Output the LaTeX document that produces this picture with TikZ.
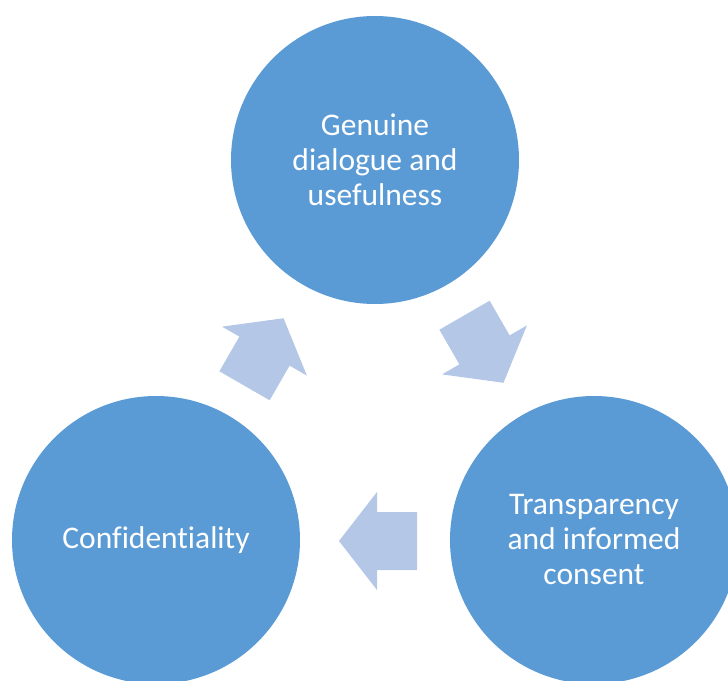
\documentclass[tikz,border=0pt]{standalone}
\usepackage{fontspec}
\setmainfont{Carlito}[Ligatures=NoCommon]
\definecolor{circblue}{HTML}{5B9BD5}
\definecolor{arrblue}{HTML}{B4C7E7}
\tikzset{
  bubble/.style={circle, fill=circblue, draw=none, minimum size=288pt, inner sep=0pt,
    text=white, align=center, font=\fontsize{31.5}{35}\selectfont},
  blockarrow/.pic={
    \fill[arrblue] (39,0) -- (1,49) -- (1,29) -- (-39,29) -- (-39,-29) -- (1,-29) -- (1,-49) -- cycle;
  }
}
\begin{document}
\begin{tikzpicture}[x=1pt,y=-1pt]
\useasboundingbox (0,0) rectangle (728,680);
\clip (0,0) rectangle (728,680);
\node[bubble] (top) at (375,160) {Genuine\\dialogue and\\usefulness};
\node[bubble] (left) at (156,540) {Confidentiality};
\node[bubble] (right) at (594,540) {Transparency\\and informed\\consent};
\pic[rotate=60] (a1) at (264,352) {blockarrow};
\pic[rotate=-60] (a2) at (484,349) {blockarrow};
\pic[rotate=180] (a3) at (378,541) {blockarrow};
\end{tikzpicture}
\end{document}
